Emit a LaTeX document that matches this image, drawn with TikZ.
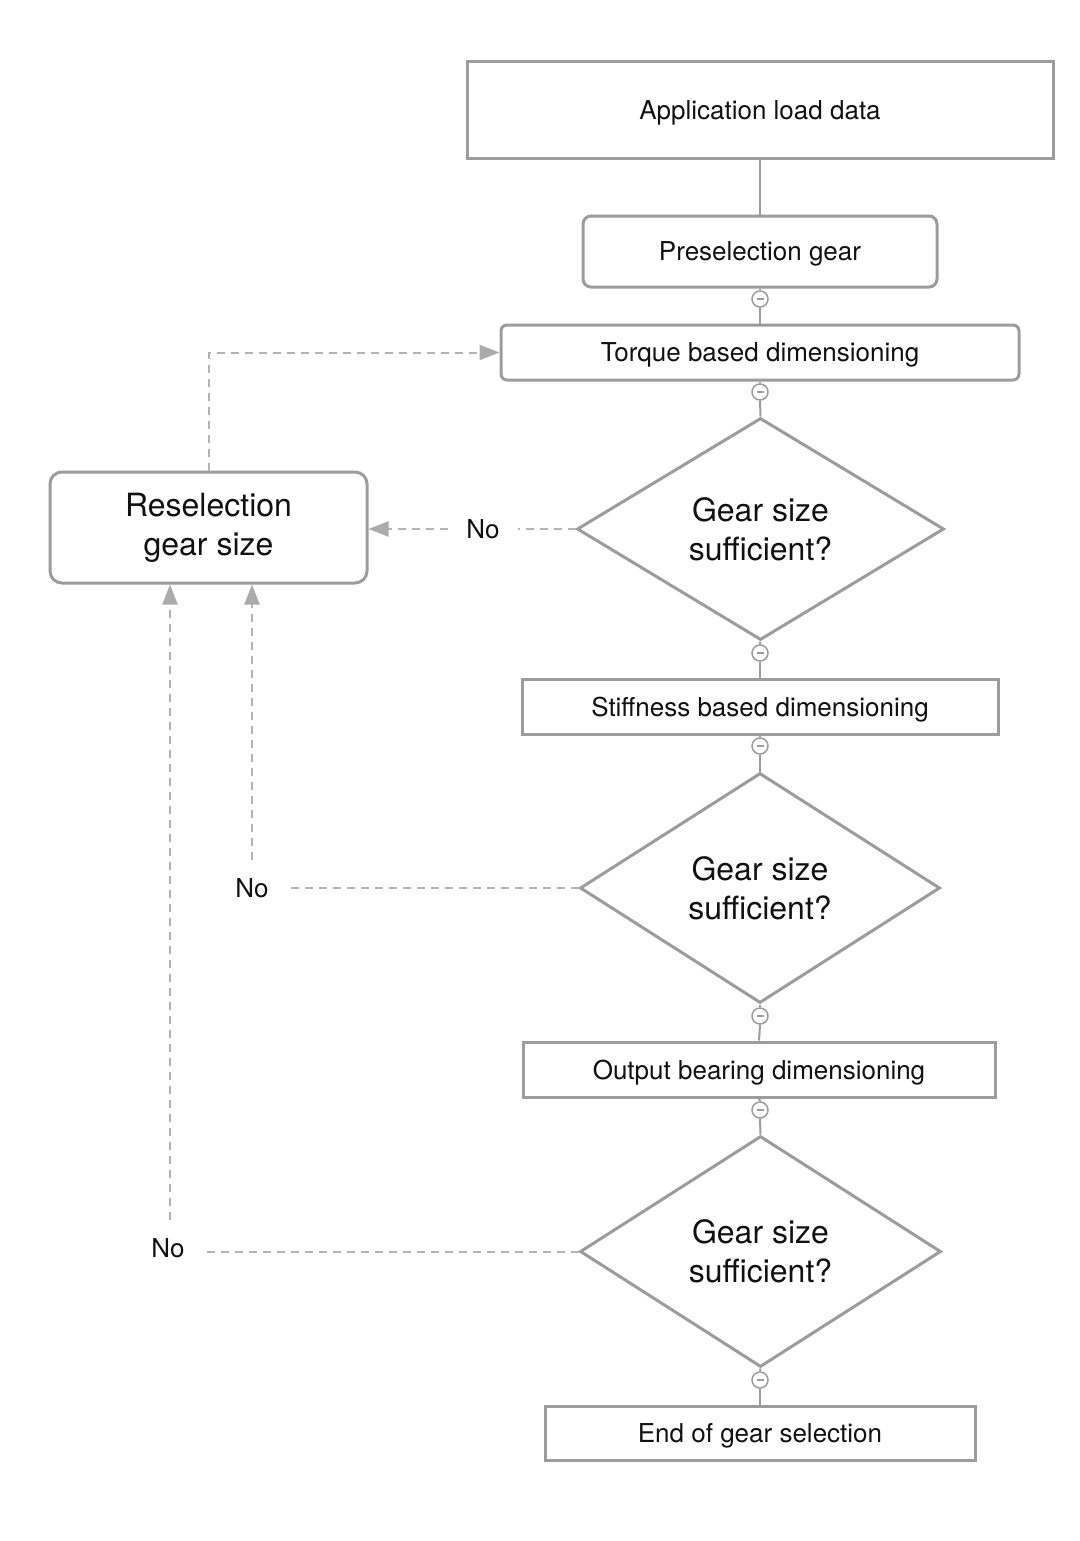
\documentclass[tikz,border=0pt]{standalone}
\usepackage{fontspec}
\setmainfont{TeX Gyre Heros}
\usetikzlibrary{shapes.geometric,arrows.meta}
\definecolor{boxgray}{HTML}{9C9C9C}
\definecolor{dashgray}{HTML}{B4B4B4}
\definecolor{tipgray}{HTML}{ABABAB}
\definecolor{txt}{HTML}{111111}
\begin{document}
\begin{tikzpicture}[x=0.5pt,y=-0.5pt,
  box/.style={draw=boxgray,line width=1.5pt,rectangle,align=center,text=txt,
    font=\fontsize{13}{15.5}\selectfont,inner sep=0pt,text depth=0pt},
  dec/.style={draw=boxgray,line width=1.5pt,diamond,aspect=1.6,align=center,text=txt,
    font=\fontsize{16}{19.5}\selectfont,inner sep=0pt},
  minusdot/.style={circle,draw=boxgray,line width=0.75pt,minimum size=8pt,inner sep=0pt,fill=white,
    path picture={\draw[boxgray,line width=0.75pt]
      ([xshift=-1.75pt]path picture bounding box.center) -- ([xshift=1.75pt]path picture bounding box.center);}},
  link/.style={draw=boxgray,line width=1pt},
  dashlink/.style={draw=dashgray,line width=1pt,dash pattern=on 4pt off 3pt},
  tip/.style={-{Triangle[length=10pt,width=7.5pt,fill=tipgray,color=tipgray]}},
  nolabel/.style={font=\fontsize{13}{15.5}\selectfont,text=txt,inner sep=9pt}]
\fill[white] (0,0) rectangle (1080,1541);
\useasboundingbox (0,0) rectangle (1080,1541);

% boxes
\node[box,minimum width=293pt,minimum height=48pt] (app) at (760,110) {Application load data};
\node[box,rounded corners=4pt,minimum width=177pt,minimum height=35.5pt] (pre) at (760,251.5) {Preselection gear};
\node[box,rounded corners=3pt,minimum width=259pt,minimum height=27.5pt] (tor) at (760,352.5) {Torque based dimensioning};
\node[dec,minimum width=183.5pt,minimum height=111pt] (d1) at (760.5,529) {Gear size\\sufficient?};
\node[box,minimum width=238pt,minimum height=27.5pt] (sti) at (760,706.5) {Stiffness based dimensioning};
\node[dec,minimum width=180pt,minimum height=115pt] (d2) at (760,888) {Gear size\\sufficient?};
\node[box,minimum width=236pt,minimum height=27.5pt] (out) at (759,1069.5) {Output bearing dimensioning};
\node[dec,minimum width=180.5pt,minimum height=115.5pt] (d3) at (760.5,1251.5) {Gear size\\sufficient?};
\node[box,minimum width=215pt,minimum height=27pt] (end) at (760,1433) {End of gear selection};
\node[box,rounded corners=6pt,minimum width=158.5pt,minimum height=55.5pt,text depth=,
  font=\fontsize{16}{19.5}\selectfont] (res) at (208.5,527.5) {Reselection\\gear size};

% minus markers
\node[minusdot] (m1) at (760,299) {};
\node[minusdot] (m2) at (760,392) {};
\node[minusdot] (m3) at (760,653) {};
\node[minusdot] (m4) at (760,746) {};
\node[minusdot] (m5) at (760,1016) {};
\node[minusdot] (m6) at (760,1110) {};
\node[minusdot] (m7) at (760,1380) {};

% solid connectors
\draw[link] (app.south) -- (pre.north);
\draw[link] (pre.south) -- (m1.north);
\draw[link] (m1.south) -- (tor.north);
\draw[link] (tor.south) -- (m2.north);
\draw[link] (m2.south) -- (d1.north);
\draw[link] (d1.south) -- (m3.north);
\draw[link] (m3.south) -- (sti.north);
\draw[link] (sti.south) -- (m4.north);
\draw[link] (m4.south) -- (d2.north);
\draw[link] (d2.south) -- (m5.north);
\draw[link] (m5.south) -- (out.north);
\draw[link] (out.south) -- (m6.north);
\draw[link] (m6.south) -- (d3.north);
\draw[link] (d3.south) -- (m7.north);
\draw[link] (m7.south) -- (end.north);

% No labels
\node[nolabel] (no1) at (483,529) {No};
\node[nolabel] (no2) at (252,888) {No};
\node[nolabel] (no3) at (168,1248) {No};

% dashed connectors
\draw[dashlink,tip] (res.north) |- (tor.west);
\draw[dashlink] (d1.west) -- (d1.west -| no1.east);
\draw[dashlink,tip] (d1.west -| no1.west) -- (d1.west -| res.east);
\draw[dashlink] (d2.west) -- (d2.west -| no2.east);
\draw[dashlink,tip] (no2.north) -- (no2.north |- res.south);
\draw[dashlink] (d3.west) -- (d3.west -| no3.east);
\draw[dashlink,tip] ([xshift=1pt]no3.north) -- ([xshift=1pt]no3.north |- res.south);
\end{tikzpicture}
\end{document}
